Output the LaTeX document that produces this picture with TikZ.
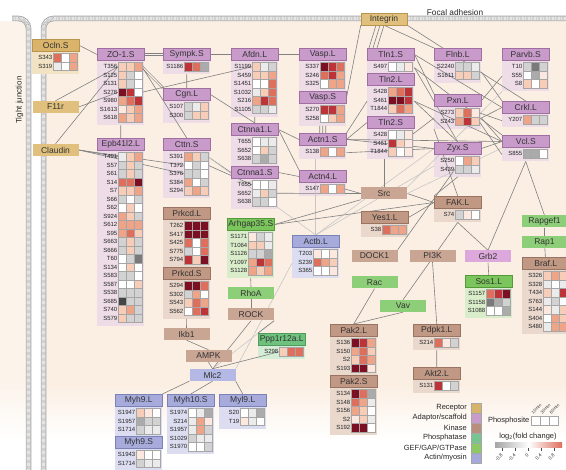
\documentclass[tikz,border=0pt]{standalone}
\usepackage{fontspec}
\setmainfont{Liberation Sans}
\pgfdeclarelayer{bg}
\pgfdeclarelayer{pnl}
\pgfdeclarelayer{edges}
\pgfsetlayers{bg,pnl,edges,main}

% protein classes: header, outline, panel, plain box, legend swatch
\definecolor{rchd}{HTML}{D9B46A}\definecolor{rcln}{HTML}{B8944E}\definecolor{rcpn}{HTML}{F2E3C4}\definecolor{rcbx}{HTML}{E0C07C}\definecolor{rcsw}{HTML}{D8B46A}
\definecolor{adhd}{HTML}{C99BCB}\definecolor{adln}{HTML}{9E6FA0}\definecolor{adpn}{HTML}{EEDDE7}\definecolor{adbx}{HTML}{DDA9DC}\definecolor{adsw}{HTML}{C99BCB}
\definecolor{knhd}{HTML}{C09884}\definecolor{knln}{HTML}{9A7462}\definecolor{knpn}{HTML}{EAD8CD}\definecolor{knbx}{HTML}{C9A594}\definecolor{knsw}{HTML}{B98F7B}
\definecolor{phhd}{HTML}{6FC27E}\definecolor{phln}{HTML}{4E9C5C}\definecolor{phpn}{HTML}{D5ECD6}\definecolor{phbx}{HTML}{7FCB8C}\definecolor{phsw}{HTML}{78C491}
\definecolor{gfhd}{HTML}{7BC65C}\definecolor{gfln}{HTML}{559A3A}\definecolor{gfpn}{HTML}{D9EDCB}\definecolor{gfbx}{HTML}{8DCE78}\definecolor{gfsw}{HTML}{8CC864}
\definecolor{achd}{HTML}{A6ABDC}\definecolor{acln}{HTML}{7C81B6}\definecolor{acpn}{HTML}{DCDDF0}\definecolor{acbx}{HTML}{B4B8E4}\definecolor{acsw}{HTML}{A4A9DA}
\definecolor{cellbg}{HTML}{FBEFE3}
% heat map
\definecolor{hw}{HTML}{FFFFFF}
\definecolor{hg0}{HTML}{EBEBEB}\definecolor{hg1}{HTML}{D2D2D2}\definecolor{hg2}{HTML}{ABABAB}
\definecolor{hg3}{HTML}{7A7A7A}\definecolor{hg4}{HTML}{454545}
\definecolor{hr0}{HTML}{FCE8DE}\definecolor{hr1}{HTML}{F8CDB8}\definecolor{hr2}{HTML}{EFA387}
\definecolor{hr3}{HTML}{DD6F5C}\definecolor{hr4}{HTML}{BE3338}\definecolor{hr5}{HTML}{7D0F22}
\pgfdeclarehorizontalshading{fcbar}{100bp}{color(0bp)=(black); color(25bp)=(black!35); color(50bp)=(white); color(75bp)=(hr3); color(100bp)=(hr5)}

\tikzset{
  hd/.style={rectangle, draw=#1ln, fill=#1hd, line width=0.5pt, minimum width=47pt,
    minimum height=12.5pt, inner sep=0pt, text=black!80, font=\fontsize{8.5}{10}\selectfont},
  pn/.style={rectangle, fill=#1pn, minimum width=47pt, inner sep=0pt},
  bx/.style={rectangle, fill=#1bx, minimum width=46pt, minimum height=12pt, inner sep=0pt,
    text=black!80, font=\fontsize{8.5}{10}\selectfont},
  site/.style={font=\fontsize{6}{7}\selectfont, inner sep=0pt, text=black!85},
  hmcell/.style={draw=black!35, line width=0.3pt},
  lgtxt/.style={font=\fontsize{7.5}{9}\selectfont, inner sep=0pt, text=black!85},
  lk/.style={draw=black!50, line width=0.6pt},
  lkl/.style={draw=black!22, line width=0.6pt},
  dbl/.style={lk, double=cellbg, double distance=1.3pt},
  memb/.style={draw=black!35, line width=5.5pt,
    postaction={draw=white, line width=3.7pt},
    postaction={draw=black!28, line width=3.7pt, dash pattern=on 0.5pt off 0.7pt}}
}

% id, label, class, left, top, rows, sites
\newcommand{\protbox}[7]{%
  \node[hd=#3, anchor=north west] (#1) at (#4,#5) {#2};
  \begin{pgfonlayer}{pnl}
    \node[pn=#3, anchor=north west, minimum height={#6*8.5+4.5}] (#1p) at (#1.south west) {};
  \end{pgfonlayer}
  \foreach \st/\cA/\cB/\cC [count=\i] in {#7} {
    \coordinate (#1l\i) at ({#4+21},{#5+10.25+\i*8.5});
    \coordinate (#1r\i) at ({#4+45},{#5+10.25+\i*8.5});
    \node[site, anchor=east] at ({#4+20.5},{#5+10.25+\i*8.5}) {\st};
    \filldraw[hmcell, fill=h\cA] ({#4+21},{#5+6+\i*8.5}) rectangle +(8,8.5);
    \filldraw[hmcell, fill=h\cB] ({#4+29},{#5+6+\i*8.5}) rectangle +(8,8.5);
    \filldraw[hmcell, fill=h\cC] ({#4+37},{#5+6+\i*8.5}) rectangle +(8,8.5);
  }%
}

\begin{document}
\begin{tikzpicture}[x=1pt,y=-1pt]
\useasboundingbox (0,0) rectangle (566,470);

% cells and membranes
\begin{pgfonlayer}{bg}
  \fill[cellbg] (46,21) rectangle (566,385);
  \shade[top color=cellbg, bottom color=white] (46,385) rectangle (566,440);
  \fill[cellbg!70] (0,21) rectangle (26,385);
  \shade[top color=cellbg!70, bottom color=white] (0,385) rectangle (26,440);
  \draw[memb, rounded corners=10pt] (28.5,475) -- (28.5,18.5) -- (12,18.5);
  \draw[memb, rounded corners=10pt] (43.5,475) -- (43.5,18.5) -- (575,18.5);
\end{pgfonlayer}
\node[rotate=90, font=\fontsize{8}{9}\selectfont, text=black!85] (tj) at (19.5,100) {Tight junction};
\node[font=\fontsize{8.3}{9}\selectfont, text=black!85] (fa) at (455,12.5) {Focal adhesion};

% receptors
\node[bx=rc, draw=rcln, line width=0.5pt] (integrin) at (384,19) {Integrin};
\node[bx=rc] (f11r) at (55.5,107) {F11r};
\node[bx=rc] (claudin) at (55.5,150) {Claudin};
\protbox{ocln}{Ocln.S}{rc}{32}{39}{2}{S343/r3/w/r2, S319/g0/w/r2}

% adaptors / scaffolds
\protbox{zo1}{ZO-1.S}{ad}{97}{48}{7}{T356/r1/r1/r2, S125/r1/g1/w, S131/r1/g1/w, S278/r5/r4/w, S980/r2/r3/r4, S1613/r0/r1/r2, S618/r2/r1/r2}
\protbox{sympk}{Sympk.S}{ad}{163}{48}{1}{S1186/r4/r3/g2}
\protbox{cgn}{Cgn.L}{ad}{163}{88}{2}{S107/g1/g0/r1, S300/g1/r1/r1}
\protbox{epb}{Epb41l2.L}{ad}{97}{138}{20}{T491/g0/r1/r2, S57/g1/r1/g1, S61/g1/r1/g1, S14/r3/r3/r5, S7/r1/r1/r2, S66/g1/w/g1, S62/w/r1/w, S924/r2/r1/g1, S612/r2/r2/r2, S95/r2/r3/r1, S663/g1/r1/g1, S666/g1/r1/g1, T60/w/g1/g3, S134/w/r1/w, S583/g1/g1/w, S587/w/w/r1, S538/g1/g1/g1, S685/g4/g1/g1, S740/r1/r2/g1, S579/r1/g1/g1}
\protbox{cttn}{Cttn.S}{ad}{163}{138}{5}{S391/r2/r1/g1, T372/w/g1/w, S376/g1/g1/w, S384/r2/w/g1, S294/r1/r2/r1}
\protbox{afdn}{Afdn.L}{ad}{231}{48}{6}{S1199/r1/g0/g1, S459/r1/r1/r2, S1451/w/w/r3, S1032/g0/r1/r3, S216/r2/r4/r3, S1105/g1/g1/g0}
\protbox{ctnnaL}{Ctnna1.L}{ad}{231}{123}{3}{T655/w/g0/g0, S652/w/r1/g1, S638/g1/g2/g1}
\protbox{ctnnaS}{Ctnna1.S}{ad}{231}{166}{3}{T655/w/w/g0, S652/g0/r1/g1, S638/g1/g1/w}
\protbox{vaspL}{Vasp.L}{ad}{299}{48}{3}{S337/r5/r4/r3, S246/r3/r4/r2, S325/w/r2/r2}
\protbox{vaspS}{Vasp.S}{ad}{299}{91}{2}{S270/r4/r4/r2, S258/w/r1/r2}
\protbox{actn1}{Actn1.S}{ad}{299}{133}{1}{S138/r2/w/r2}
\protbox{actn4}{Actn4.L}{ad}{299}{170}{1}{S147/r2/w/r2}
\protbox{tln1}{Tln1.S}{ad}{367}{48}{1}{S497/w/g0/r0}
\protbox{tln2L}{Tln2.L}{ad}{367}{73}{3}{S428/r2/r3/r4, S461/r5/r5/r4, T1844/r1/r3/r2}
\protbox{tln2S}{Tln2.S}{ad}{367}{116}{3}{S428/w/g0/r0, S461/r4/r1/r0, T1844/r1/w/r0}
\protbox{flnb}{Flnb.L}{ad}{434}{48}{2}{S2240/g1/g1/g0, S1611/r1/r1/g1}
\protbox{parvb}{Parvb.S}{ad}{502}{48}{3}{T10/g1/g3/g1, S55/w/g2/r0, S8/r1/w/r1}
\protbox{pxn}{Pxn.L}{ad}{434}{94}{2}{S273/r1/r3/r0, S243/r2/r4/r1}
\protbox{crkl}{Crkl.L}{ad}{502}{101}{1}{Y207/r2/g1/g1}
\protbox{vcl}{Vcl.S}{ad}{502}{135}{1}{S855/g2/g2/w}
\protbox{zyx}{Zyx.S}{ad}{434}{142}{2}{S250/w/r2/r1, S439/g1/g1/g0}
\node[bx=ad] (grb2) at (488,256.5) {Grb2};

% kinases
\protbox{prkcdL}{Prkcd.L}{kn}{163}{207}{5}{T262/r5/r5/r5, S417/r5/r5/r5, S425/r3/w/r3, S775/g1/w/r3, S794/r4/r1/r5}
\protbox{prkcdS}{Prkcd.S}{kn}{163}{267}{4}{S294/r5/r5/r3, S302/g1/r2/w, S543/r1/r3/r2, S562/w/r3/r4}
\protbox{yes1}{Yes1.L}{kn}{361}{211}{1}{S38/r3/r2/r2}
\protbox{fak}{FAK.L}{kn}{434}{196}{1}{S74/g1/r0/w}
\protbox{pak2L}{Pak2.L}{kn}{330}{324}{4}{S136/r5/r4/r2, S150/r2/r3/r1, S2/r1/r3/r2, S193/r5/r5/r0}
\protbox{pak2S}{Pak2.S}{kn}{330}{375}{5}{S134/r5/r3/g2, S148/r3/r2/g0, S156/r2/r1/w, S2/r0/r1/g0, S192/r5/r5/w}
\protbox{pdpk1}{Pdpk1.L}{kn}{413}{324}{1}{S214/r3/r0/g1}
\protbox{akt2}{Akt2.L}{kn}{413}{367}{1}{S131/r4/w/g1}
\protbox{braf}{Braf.L}{kn}{522}{257}{7}{S326/r1/r2/r1, S328/g0/w/g0, T434/r1/g0/r4, S763/g0/g1/w, S144/r0/g0/r1, S404/w/r2/r1, S480/g0/r2/r2}
\node[bx=kn] (src) at (384,193.5) {Src};
\node[bx=kn] (dock1) at (374.5,256) {DOCK1};
\node[bx=kn] (pi3k) at (432.5,256) {PI3K};
\node[bx=kn] (ikb1) at (186.5,334) {Ikb1};
\node[bx=kn] (ampk) at (208.5,356) {AMPK};
\node[bx=kn] (rock) at (251,314.5) {ROCK};

% GEF / GAP / GTPase and phosphatase
\protbox{arhgap}{Arhgap35.S}{gf}{227}{218}{5}{S1171/r0/g1/g0, T1064/r1/r1/g0, S1126/g1/g1/g2, Y1097/r2/r4/r3, S1128/r2/r1/r2}
\protbox{sos1}{Sos1.L}{gf}{465}{275}{3}{S1157/r3/r4/r5, S1158/g3/g2/g1, S1088/w/w/g2}
\protbox{ppp}{Ppp1r12a.L}{ph}{258}{333}{1}{S298/r1/r3/r3}
\node[bx=gf] (rhoa) at (251,293) {RhoA};
\node[bx=gf] (rac) at (374.5,282.5) {Rac};
\node[bx=gf] (vav) at (403,306) {Vav};
\node[bx=gf] (rapgef1) at (544.5,221.5) {Rapgef1};
\node[bx=gf] (rap1) at (544.5,242) {Rap1};

% actin / myosin
\protbox{actb}{Actb.L}{ac}{292}{235}{3}{T203/r0/w/r0, S239/r3/r2/r1, S365/w/w/r0}
\protbox{myh9L}{Myh9.L}{ac}{115}{394}{3}{S1947/r1/r0/w, S1957/g2/g1/g1, S1714/g1/g0/g0}
\protbox{myh9S}{Myh9.S}{ac}{115}{436}{2}{S1943/r0/w/w, S1714/g1/g0/g0}
\protbox{myh10}{Myh10.S}{ac}{167}{394}{5}{S1974/w/g0/g2, S214/g0/r2/r0, S1957/g0/r2/g1, S1029/g1/g0/g0, S1970/w/w/g1}
\protbox{myl9}{Myl9.L}{ac}{219}{394}{2}{S20/w/g0/g2, T19/r0/g0/w}
\node[bx=ac] (mlc2) at (212.5,375) {Mlc2};

% interactions
\begin{pgfonlayer}{edges}
  \draw[lk] (ocln.east) -- (zo1.west);
  \draw[dbl] (zo1.east) -- (sympk.west);
  \draw[lk] (f11r.north) -- (zo1l1);
  \draw[lk] (f11r.east) -- (zo1l4);
  \draw[lk] (claudin.north) -- (zo1l1);
  \draw[lk] (claudin.east) -- (epbl1);
  \draw[lk] (claudin.east) -- (cttnl2);
  \draw[lk] (claudin.east) -- (cttnl3);
  \draw[lk] (zo1p.south) -- (epb.north);
  \draw[dbl] (zo1r1) -- (cgn.north west);
  \draw[lk] (zo1r1) -- (cttn.north);
  \draw[lk] (zo1r4) -- (afdnl1);
  \draw[lk] (sympkp.south) -- (cgn.north);
  \draw[lk] (sympk.east) -- (afdn.west);
  \draw[lk] (afdn.east) -- (vaspL.west);
  \draw[lk] (afdnp.south) -- (ctnnaL.north);
  \draw[lk] (cgn.east) -- (ctnnaL.north);
  \draw[lk] (ctnnaL.east) -- (actn1.west);
  \draw[lk] (ctnnaL.east) -- (actn4.north west);
  \draw[lk] (cttnr1) -- (ctnnaS.west);
  \draw[lk] (cttnr2) -- (ctnnaSl1);
  \draw[lk] (ctnnaSr2) -- (src.west);
  \draw[lk] (ctnnaS.east) -- (actn4.west);
  \draw[lkl] (cttnr1) -- (actb.north);
  \draw[lkl] (actb.north) -- (actb.north |- actn1p.south);
  \draw[lkl] (actb.north) -- (zyx.west);
  \draw[lkl] (actb.north) -- (zyxp.west);
  \draw[lkl] (actbp.west) -- (mlc2.north east);
  \draw[lk] (actn4r1) -- (src.west);
  \draw[lk] (src.east) -- (fak.west);
  \draw[lk] (yes1.east) -- (fak.west);
  \draw[lk] (arhgap.east) -- (src.south west);
  \draw[lk] (arhgap.east) -- (fak.west);
  \draw[lk] (fakp.south) -- (vav.north);
  \draw[lk] (fakp.south) -- (grb2.north);
  \draw[lk] (zyxl2) -- (dock1.north east);
  \draw[lk] (pi3k.south) -- (pdpk1.north);
  \draw[lk] (pdpk1p.south) -- (akt2.north);
  \draw[lk] (grb2.south) -- (sos1.north);
  \draw[lk] (vclp.south) -- (grb2.north);
  \draw[lk] (vclp.south) -- (rapgef1.north);
  \draw[lk] (rapgef1) -- (rap1);
  \draw[lk] (rap1) -- (braf);
  \draw[lk] (rac.south) -- (pak2L.north);
  \draw[lk] (vav.south) -- (pak2L.north);
  \draw[lk] (arhgapp.south) -- (rhoa.north);
  \draw[lk] (rhoa) -- (rock);
  \draw[lk] (rock.south) -- (mlc2.north);
  \draw[lkl] (rock.south east) -- (mlc2.north);
  \draw[lk] (rock.south east) -- (ppp.north west);
  \draw[lk] (pppl1) -- (mlc2.north);
  \draw[lk] (prkcdSp.south) -- (ikb1.north);
  \draw[lk] (ikb1.south) -- (ampk.north);
  \draw[lk] (ampk.south) -- (mlc2.north);
  \draw[lk] (mlc2.south west) -- (myh9L.north east);
  \draw[lk] (mlc2.south) -- (myh10.north);
  \draw[lk] (mlc2.south east) -- (myl9.north);
  \foreach \s in {0,4,8}
    \draw[lk] ([xshift=\s pt-8pt]integrin.south) -- ([xshift=\s pt+2pt]tln1.north west);
  \draw[lk] (integrin.south west) -- (vaspS.east);
  \draw[lk] (integrin.south) -- (flnb.north west);
  \draw[lk] (integrin.south east) -- (crkl.north);
  \foreach \s in {-3,0,3}
    \draw[lk] ([xshift=\s pt]vaspSp.south) -- ([xshift=\s pt]actn1.north);
  \draw[lk] (tln2Lp.west) -- (actn1.north east);
  \draw[lk] (tln2S.west) -- (actn1.east);
  \draw[lk] (actn1.east) -- (zyx.west);
  \draw[lk] (actn1p.east) -- (zyx.west);
  \draw[lk] (actn1.east) -- (vcl.west);
  \draw[lk] (src.north) -- (src.north |- tln2Sp.south);
  \draw[lk] (tln2Sr1) -- (pxnp.west);
  \draw[lk] (tln1.east) -- (pxn.north west);
  \draw[lk] (tln1.east) -- (crkl.west);
  \draw[lk] (tln1p.east) -- (zyx.north);
  \draw[lk] (tln1p.east) -- (vcl.north west);
  \draw[lk] (tln2Lp.east) -- (vcl.west);
  \draw[lk] (tln2Lp.east) -- (zyx.north);
  \draw[lk] (flnbp.east) -- (crkl.north west);
  \draw[lk] (parvbp.west) -- (pxn.east);
  \draw[lkl] (src.north east) -- (parvbp.south west);
  \draw[lkl] (src.east) -- (vcl.south west);
  \draw[lk] (pxnp.east) -- (crkl.west);
  \draw[lk] (pxnr1) -- (crklp.west);
  \draw[lk] (pxnp.east) -- (vcl.west);
  \draw[lk] (pxnr2) -- (vclp.west);
  \draw[lk] (zyx.east) -- (vcl.west);
  \draw[lk] (pxnp.south west) -- (fak.north);
  \draw[lk] (zyxp.south) -- (fak.north west);
\end{pgfonlayer}

% legend
\node[lgtxt, anchor=east] (lgrc) at (467,408) {Receptor};
\node[lgtxt, anchor=east] (lgad) at (467,418) {Adaptor/scaffold};
\node[lgtxt, anchor=east] (lgkn) at (467,428) {Kinase};
\node[lgtxt, anchor=east] (lgph) at (467,438) {Phosphatase};
\node[lgtxt, anchor=east] (lggf) at (467,448) {GEF/GAP/GTPase};
\node[lgtxt, anchor=east] (lgac) at (467,458) {Actin/myosin};
\foreach \k [count=\i] in {rc,ad,kn,ph,gf,ac}
  \filldraw[draw=black!35, line width=0.3pt, fill=\k sw] (471,{393+\i*10}) rectangle +(10,10);
\node[lgtxt, anchor=east] (phs) at (529.5,421) {Phosphosite};
\foreach \t [count=\j] in {10min,30min,60min} {
  \filldraw[hmcell, fill=white] ({522+\j*9},416.5) rectangle +(9,9);
  \node[rotate=45, anchor=south west, inner sep=0pt, font=\fontsize{4.3}{5}\selectfont, text=black!80]
    at ({524.5+\j*9},414.5) {\t};
}
\node[lgtxt] (lfc) at (528,436.5) {log\textsubscript{2}(fold change)};
\shade[shading=fcbar] (495,443) rectangle (562,448);
\foreach \v/\x in {-0.8/502,-0.4/515,0/528,0.4/541,0.8/554} {
  \draw[black!70, line width=0.4pt] (\x,448) -- (\x,451.5);
  \node[rotate=45, anchor=east, inner sep=0pt, font=\fontsize{4.8}{5}\selectfont, text=black!80]
    at (\x,454.5) {\v};
}
\end{tikzpicture}
\end{document}
